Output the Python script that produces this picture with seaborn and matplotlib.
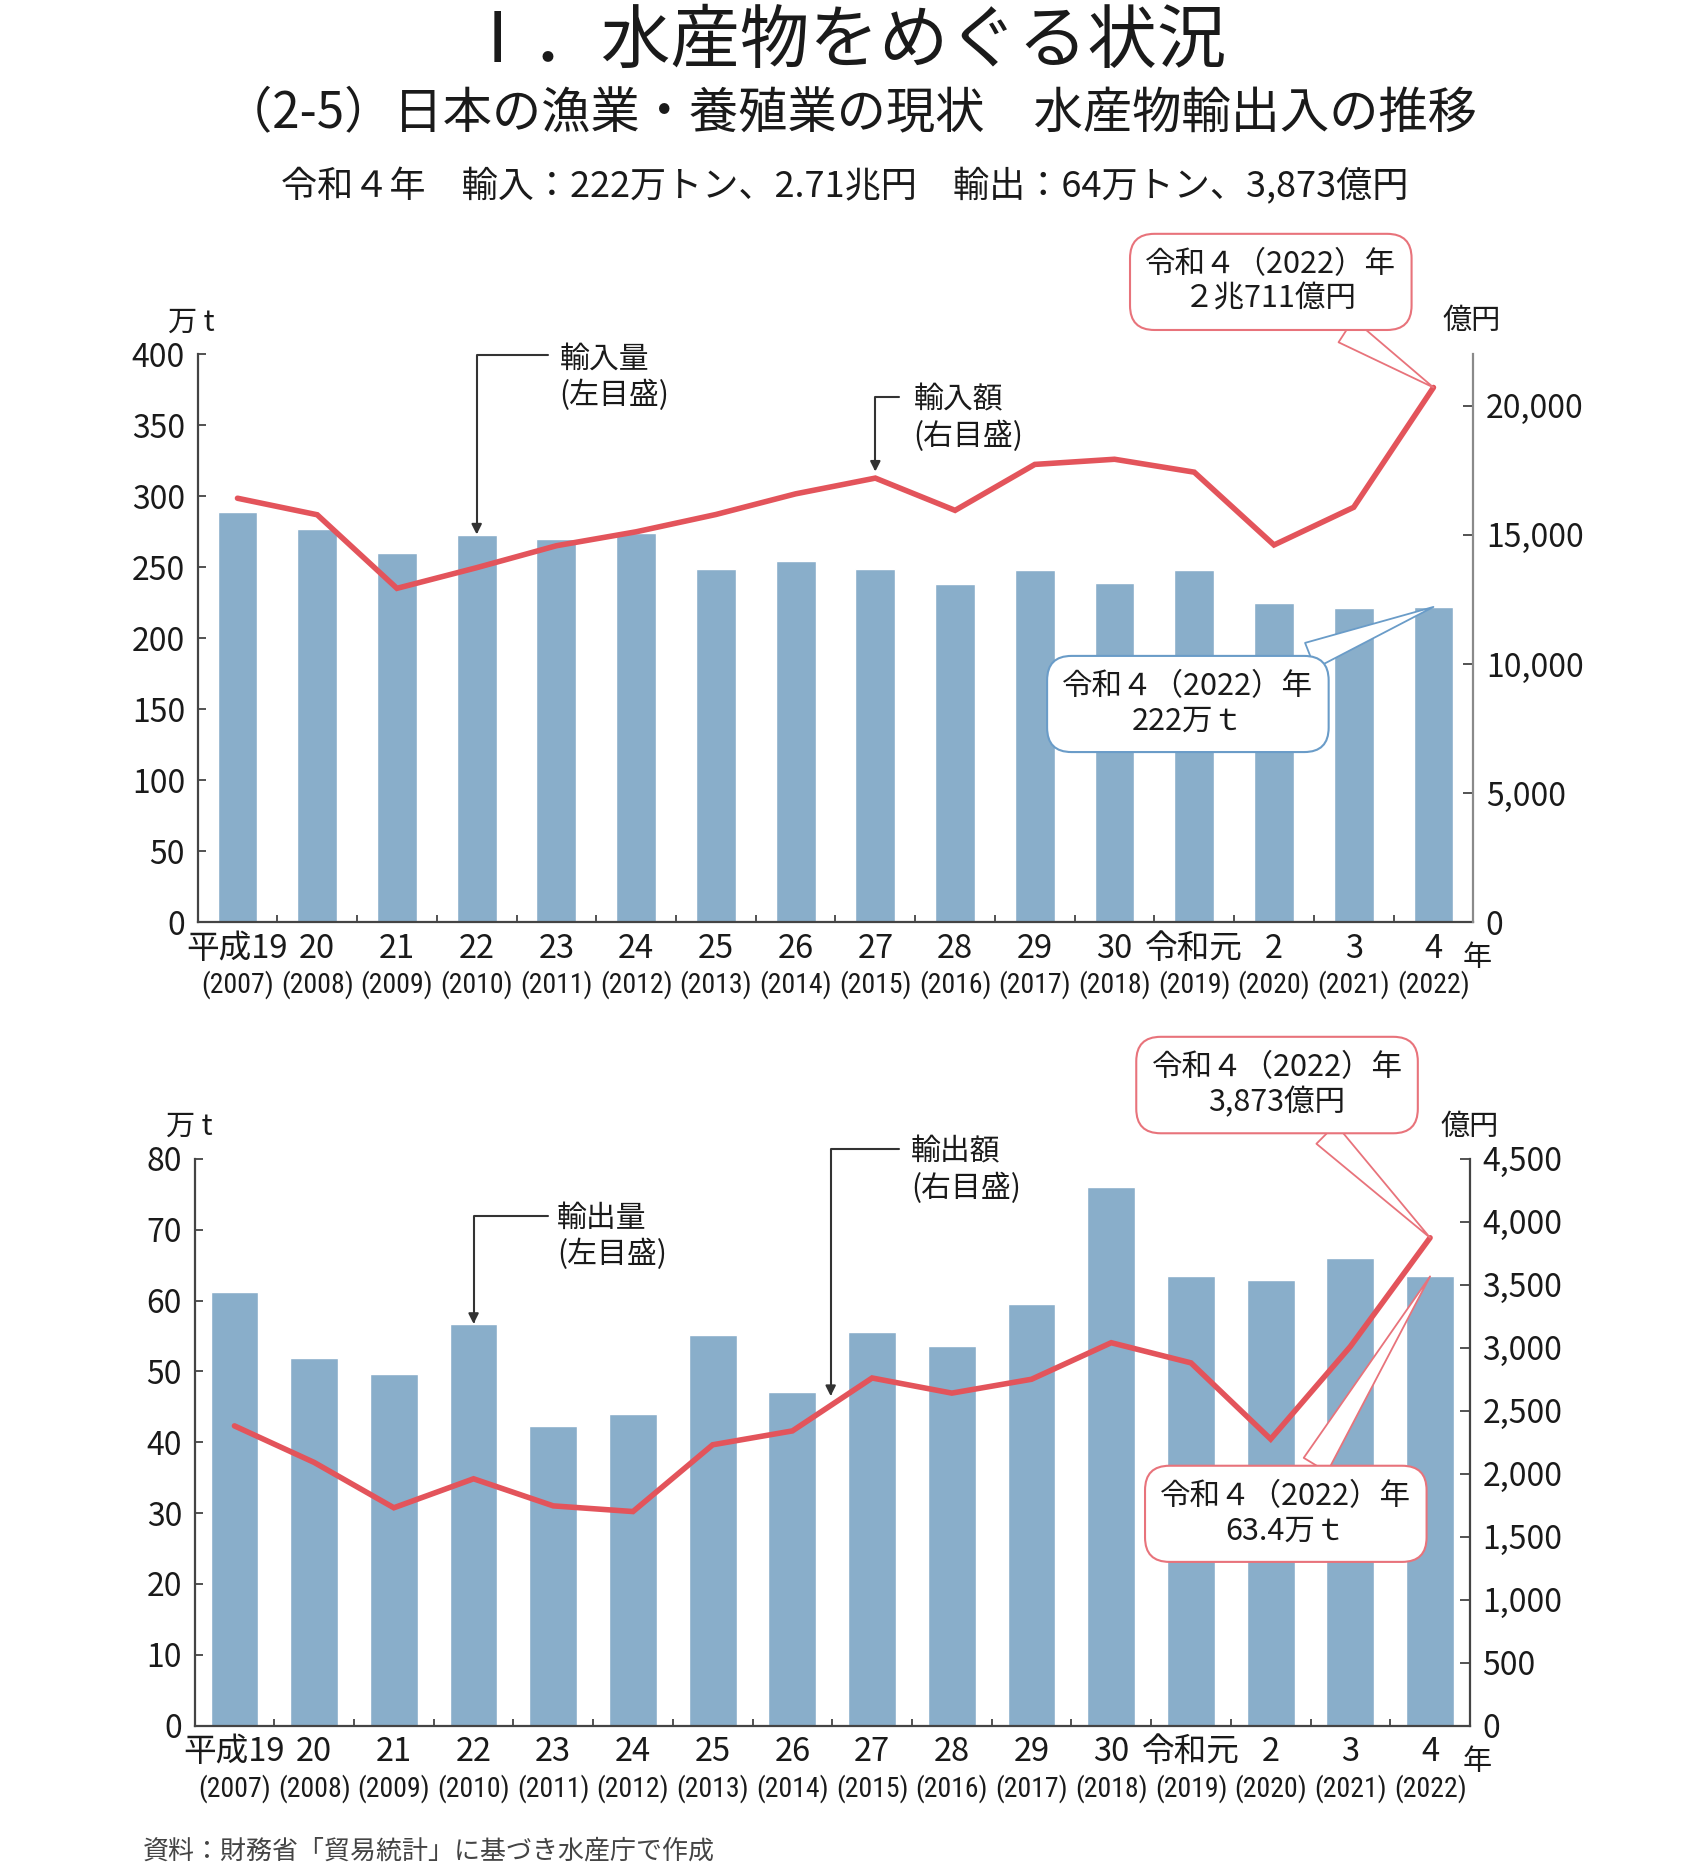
import numpy as np
import pandas as pd
import matplotlib
matplotlib.use('Agg')
import matplotlib.pyplot as plt
import matplotlib.transforms as mtransforms
from matplotlib import font_manager
from matplotlib.ticker import FuncFormatter
import seaborn as sns

# 年（和暦・西暦）
wareki = ['平成19', '20', '21', '22', '23', '24', '25', '26', '27', '28', '29', '30',
          '令和元', '2', '3', '4']
seireki = ['(2007)', '(2008)', '(2009)', '(2010)', '(2011)', '(2012)', '(2013)', '(2014)',
           '(2015)', '(2016)', '(2017)', '(2018)', '(2019)', '(2020)', '(2021)', '(2022)']

# 輸入量（万t）と輸入額（億円）
import_vol = [289, 277, 260, 273, 270, 274, 249, 254, 249, 238, 248, 239, 248, 225, 221, 222]
import_val = [16420, 15780, 12930, 13730, 14580, 15120, 15790, 16590, 17200, 15950, 17730,
              17930, 17430, 14610, 16070, 20711]

# 輸出量（万t）と輸出額（億円）
export_vol = [61.2, 51.9, 49.6, 56.7, 42.3, 44.0, 55.2, 47.1, 55.6, 53.6, 59.5, 76.0, 63.5,
              62.9, 66.0, 63.4]
export_val = [2380, 2090, 1730, 1960, 1745, 1700, 2230, 2340, 2760, 2640, 2750, 3040, 2880,
              2275, 3010, 3873]

BAR = '#89aeca'
LINE = '#e3545b'
RED_EDGE = '#e8737b'
BLUE_EDGE = '#6a9cc8'
INK = '#1a1a1a'
AXIS = '#444444'

sns.set_style('white')
plt.rcParams['font.family'] = ['Noto Sans CJK JP', 'DejaVu Sans']
plt.rcParams['text.color'] = INK


# 西暦の行は細い書体で（あれば）
def narrow_font():
    order = ['Liberation Sans Narrow', 'Roboto Condensed', 'Noto Sans Condensed',
             'Open Sans Condensed', 'DejaVu Sans Condensed']
    found = {}
    for f in font_manager.fontManager.ttflist:
        if f.style != 'normal' or f.weight not in (400, 'normal', 'regular'):
            continue
        key = f.name
        if f.stretch in ('condensed', 'semi-condensed') and 'Condensed' not in key:
            key = key + ' Condensed'
        found.setdefault(key, f.fname)
    for name in order:
        if name in found:
            return font_manager.FontProperties(fname=found[name], size=20)
    return font_manager.FontProperties(family='Noto Sans CJK JP', size=16)


year_font = narrow_font()

fig = plt.figure(figsize=(16.89, 18.75), dpi=100)
ax_top = fig.add_axes([0.117, 0.5082, 0.7553, 0.3029])
ax_bot = fig.add_axes([0.1152, 0.0796, 0.7551, 0.3024])


def draw_panel(ax, vol, val, vol_max, vol_step, val_max, val_top, val_step, bar_width,
               right_color):
    n = len(vol)
    df = pd.DataFrame({'year': seireki, 'vol': vol, 'val': val, 'pos': np.arange(n)})
    sns.barplot(data=df, x='year', y='vol', color=BAR, saturation=1, width=bar_width,
                errorbar=None, ax=ax)
    ax2 = ax.twinx()
    sns.lineplot(data=df, x='pos', y='val', color=LINE, lw=4, ax=ax2,
                 solid_joinstyle='miter')

    ax.set_xlim(-0.5, n - 0.5)
    ax.set_ylim(0, vol_max)
    ax2.set_ylim(0, val_max)
    ax.set_yticks(np.arange(0, vol_max + 1e-9, vol_step))
    ax2.set_yticks(np.arange(0, val_top + 1e-9, val_step))
    ax2.yaxis.set_major_formatter(FuncFormatter(lambda v, p: f'{v:,.0f}'))
    ax.set_xticks(range(n))
    ax.set_xticklabels([])
    ax.set_xticks(np.arange(0.5, n - 1, 1), minor=True)
    ax.tick_params(axis='x', which='major', length=0, bottom=False)
    ax.tick_params(axis='x', which='minor', direction='in', length=5, width=1.3,
                   color=AXIS, bottom=True)
    ax.tick_params(axis='y', direction='in', length=6, width=1.3, color=AXIS,
                   labelsize=23, pad=9, left=True, labelcolor=INK)
    ax2.tick_params(axis='y', direction='in', length=7, width=1.3, color=AXIS,
                    labelsize=23, pad=9, right=True, labelcolor=INK)
    for a in (ax, ax2):
        a.set_xlabel('')
        a.set_ylabel('')
    ax.spines['top'].set_visible(False)
    ax.spines['right'].set_visible(False)
    for s in ('left', 'bottom'):
        ax.spines[s].set_color(AXIS)
        ax.spines[s].set_linewidth(1.6)
    for s in ('top', 'left', 'bottom'):
        ax2.spines[s].set_visible(False)
    ax2.spines['right'].set_color(right_color)
    ax2.spines['right'].set_linewidth(1.6)

    trans = mtransforms.blended_transform_factory(ax.transData, ax.transAxes)
    for i in range(n):
        ax.text(i, -0.047, wareki[i], transform=trans, ha='center', va='center',
                fontsize=23.5)
        ax.text(i, -0.11, seireki[i], transform=trans, ha='center', va='center',
                fontproperties=year_font, color=INK)
    return ax2


ax2_top = draw_panel(ax_top, import_vol, import_val, 400, 50, 22000, 20000, 5000, 0.5,
                     '#8a8a8a')
ax2_bot = draw_panel(ax_bot, export_vol, export_val, 80, 10, 4500, 4500, 500, 0.6, AXIS)


def leader(ax2, base, tip, start, text_xy, text):
    ax2.annotate('', xy=tip, xycoords=base, xytext=start, textcoords=base,
                 arrowprops=dict(arrowstyle='-|>', color='#333333', lw=1.5,
                                 mutation_scale=15, shrinkA=0, shrinkB=0,
                                 connectionstyle='angle,angleA=0,angleB=90,rad=0'),
                 annotation_clip=False)
    ax2.text(text_xy[0], text_xy[1], text, transform=base, ha='left', va='center',
             fontsize=21.5, linespacing=1.2)


def callout(ax2, base, xy, xytext, text, edge):
    ax2.annotate(text, xy=xy, xycoords=base, xytext=xytext, textcoords=ax2.transData,
                 ha='center', va='center', fontsize=22, linespacing=1.15, zorder=6,
                 bbox=dict(boxstyle='round,pad=0.5,rounding_size=0.8', fc='white',
                           ec=edge, lw=1.5),
                 arrowprops=dict(arrowstyle='wedge,tail_width=0.9,shrink_factor=0.5',
                                 fc='white', ec=edge, lw=1.3, shrinkA=0, shrinkB=0),
                 annotation_clip=False)


# 上段：輸入
leader(ax2_top, ax_top.transData, (3, import_vol[3]), (3.89, 399.4), (4.04, 384),
       '輸入量\n(左目盛)')
leader(ax2_top, ax2_top.transData, (8, import_val[8] + 250), (8.30, 20343), (8.48, 19530),
       '輸入額\n(右目盛)')
callout(ax2_top, ax2_top.transData, (15, import_val[-1]), (12.96, 24800),
        '令和４（2022）年\n２兆711億円', RED_EDGE)
callout(ax2_top, ax_top.transData, (15, import_vol[-1]), (11.92, 8450),
        '令和４（2022）年\n222万ｔ', BLUE_EDGE)

# 下段：輸出
tip_val = np.interp(7.48, np.arange(len(export_val)), export_val) + 75
leader(ax2_bot, ax_bot.transData, (3, export_vol[3]), (3.93, 71.9), (4.05, 69.0),
       '輸出量\n(左目盛)')
leader(ax2_bot, ax2_bot.transData, (7.48, tip_val), (8.34, 4579), (8.49, 4411),
       '輸出額\n(右目盛)')
callout(ax2_bot, ax2_bot.transData, (15, export_val[-1]), (13.08, 5085),
        '令和４（2022）年\n3,873億円', RED_EDGE)
callout(ax2_bot, ax_bot.transData, (15, export_vol[-1]), (13.19, 1682),
        '令和４（2022）年\n63.4万ｔ', RED_EDGE)

# 単位
fig.text(0.113, 0.8277, '万 t', ha='center', va='center', fontsize=21)
fig.text(0.871, 0.8288, '億円', ha='center', va='center', fontsize=21)
fig.text(0.8745, 0.4888, '年', ha='center', va='center', fontsize=21)
fig.text(0.112, 0.399, '万 t', ha='center', va='center', fontsize=21)
fig.text(0.870, 0.399, '億円', ha='center', va='center', fontsize=21)
fig.text(0.8745, 0.0600, '年', ha='center', va='center', fontsize=21)

# 見出し
fig.text(0.500, 0.9776, 'Ⅰ．水産物をめぐる状況', ha='center', va='center', fontsize=50)
fig.text(0.503, 0.9394, '（2-5）日本の漁業・養殖業の現状　水産物輸出入の推移',
         ha='center', va='center', fontsize=35.5)
fig.text(0.500, 0.9005, '令和４年　輸入：222万トン、2.71兆円　輸出：64万トン、3,873億円',
         ha='center', va='center', fontsize=26)
fig.text(0.0847, 0.0128, '資料：財務省「貿易統計」に基づき水産庁で作成', ha='left',
         va='center', fontsize=18.7, color='#444444')

fig.savefig('out.png', dpi=100)
